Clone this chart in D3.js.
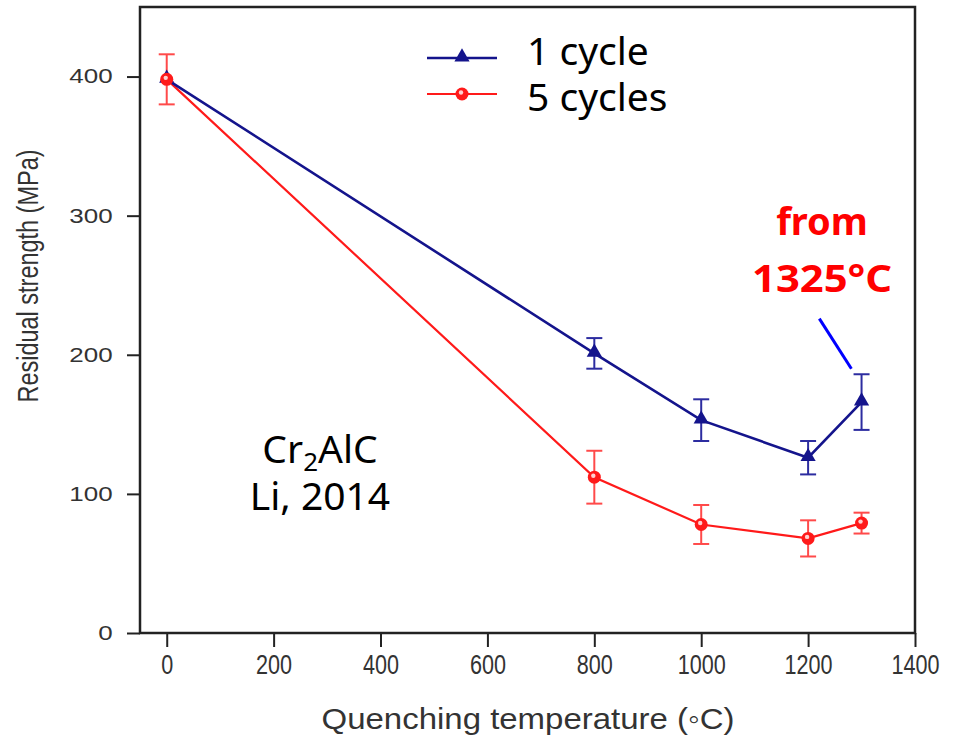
<!DOCTYPE html>
<meta charset="utf-8">
<title>Residual strength vs quenching temperature</title>
<style>
body { margin: 0; background: #fff; }
.tick text { fill: #333; font-family: "Liberation Sans", Arial, sans-serif; }
</style>
<body>
<svg width="961" height="738"></svg>
<script src="https://d3js.org/d3.v7.min.js"></script>
<script>
// data
var temps = [0, 800, 1000, 1200, 1300];
var oneCycle = [398, 201, 153, 126, 166];
var oneCycleErr = [0, 11, 15, 12, 20];
var fiveCycles = [398, 112, 78, 68, 79];
var fiveCyclesErr = [18, 19, 14, 13, 7.5];
var xTicks = [0, 200, 400, 600, 800, 1000, 1200, 1400];
var yTicks = [0, 100, 200, 300, 400];
var seriesNames = ["1 cycle", "5 cycles"];
var pointer = [[1221, 226], [1281, 190]];

var svg = d3.select("svg");

var x = d3.scaleLinear().domain([-50, 1400]).range([140, 915]);
var y = d3.scaleLinear().domain([0, 450]).range([633, 7]);

var blue = "#14148c", red = "#ff1a1a";

// x axis
var xa = svg.append("g")
    .attr("transform", "translate(0,633)")
    .call(d3.axisBottom(x).tickValues(xTicks).tickFormat(d3.format("d")).tickSize(14).tickPadding(8));
xa.select(".domain").remove();
xa.selectAll("line").attr("stroke", "#222").attr("stroke-width", 2);
xa.selectAll("text")
    .attr("transform", "scale(0.8,1)")
    .style("font-size", "27px");

// y axis
var ya = svg.append("g")
    .attr("transform", "translate(140,0)")
    .call(d3.axisLeft(y).tickValues(yTicks).tickSize(13));
ya.select(".domain").remove();
ya.selectAll("line").attr("stroke", "#222").attr("stroke-width", 2);
ya.selectAll("text")
    .attr("x", -21)
    .attr("transform", "scale(1.3,1)")
    .style("font-size", "20px");

// frame
svg.append("rect")
    .attr("x", 140).attr("y", 7)
    .attr("width", 775).attr("height", 626)
    .attr("fill", "none")
    .attr("stroke", "#222")
    .attr("stroke-width", 2.5);

// axis titles
svg.append("text")
    .attr("transform", "translate(38,276) rotate(-90)")
    .attr("text-anchor", "middle")
    .attr("fill", "#333")
    .attr("textLength", 253)
    .attr("lengthAdjust", "spacingAndGlyphs")
    .style("font-family", "'Liberation Sans', Arial, sans-serif")
    .style("font-size", "29px")
    .text("Residual strength (MPa)");

svg.append("text")
    .attr("x", 528).attr("y", 729)
    .attr("text-anchor", "middle")
    .attr("fill", "#333")
    .attr("textLength", 413)
    .attr("lengthAdjust", "spacingAndGlyphs")
    .style("font-family", "'Liberation Sans', Arial, sans-serif")
    .style("font-size", "30px")
    .text("Quenching temperature (\u25E6C)");

var line = d3.line()
    .x(function(d) { return x(d[0]); })
    .y(function(d) { return y(d[1]); });

function errorBars(vals, errs, color) {
  var g = svg.append("g").attr("stroke", color).attr("stroke-width", 2);
  temps.forEach(function(t, i) {
    if (!errs[i]) return;
    var cx = x(t);
    g.append("line").attr("x1", cx).attr("x2", cx)
      .attr("y1", y(vals[i] + errs[i])).attr("y2", y(vals[i] - errs[i]));
    [vals[i] + errs[i], vals[i] - errs[i]].forEach(function(v) {
      g.append("line").attr("x1", cx - 8).attr("x2", cx + 8)
        .attr("y1", y(v)).attr("y2", y(v));
    });
  });
}

errorBars(fiveCycles, fiveCyclesErr, "#ff4a4a");
errorBars(oneCycle, oneCycleErr, "#2c2ca0");

var blueData = temps.map(function(t, i) { return [t, oneCycle[i]]; });
var redData = temps.map(function(t, i) { return [t, fiveCycles[i]]; });

svg.append("path").datum(redData)
    .attr("d", line).attr("fill", "none")
    .attr("stroke", red).attr("stroke-width", 2.2);
svg.append("path").datum(blueData)
    .attr("d", line).attr("fill", "none")
    .attr("stroke", blue).attr("stroke-width", 2.6);

var tri = d3.symbol().type(d3.symbolTriangle).size(100);

function redMarker(sel) {
  sel.append("circle").attr("r", 6.5).attr("fill", red);
  sel.append("circle").attr("r", 2.2).attr("cx", -1).attr("cy", -1.5).attr("fill", "#ffd0d0");
}

svg.selectAll(".tri").data(blueData).enter().append("path")
    .attr("class", "tri")
    .attr("d", tri)
    .attr("fill", blue)
    .attr("transform", function(d) { return "translate(" + x(d[0]) + "," + (y(d[1]) - 1) + ")"; });

svg.selectAll(".dot").data(redData).enter().append("g")
    .attr("class", "dot")
    .attr("transform", function(d) { return "translate(" + x(d[0]) + "," + y(d[1]) + ")"; })
    .call(redMarker);

// legend
var leg = svg.append("g");
[blue, red].forEach(function(c, i) {
  var ly = 58 + i * 36;
  leg.append("line").attr("x1", 427).attr("x2", 497)
    .attr("y1", ly).attr("y2", ly)
    .attr("stroke", c).attr("stroke-width", i ? 2.2 : 2.6);
  if (i === 0) {
    leg.append("path").attr("d", tri).attr("fill", blue)
      .attr("transform", "translate(462," + (ly - 1) + ")");
  } else {
    leg.append("g").attr("transform", "translate(462," + ly + ")").call(redMarker);
  }
  leg.append("text")
    .attr("x", 527).attr("y", i ? 111 : 65)
    .style("font-family", "'Noto Sans', sans-serif")
    .style("font-size", "39px")
    .attr("fill", "#000")
    .text(seriesNames[i]);
});

// sample label
var lab = svg.append("text")
    .attr("x", 320).attr("y", 463)
    .attr("text-anchor", "middle")
    .style("font-family", "'Noto Sans', sans-serif")
    .style("font-size", "39px")
    .attr("fill", "#000");
lab.append("tspan").text("Cr");
lab.append("tspan").attr("dy", 8).style("font-size", "26px").text("2");
lab.append("tspan").attr("dy", -8).text("AlC");

svg.append("text")
    .attr("x", 320).attr("y", 510)
    .attr("text-anchor", "middle")
    .style("font-family", "'Noto Sans', sans-serif")
    .style("font-size", "39px")
    .attr("fill", "#000")
    .text("Li, 2014");

// annotation
svg.append("text")
    .attr("x", 822).attr("y", 235)
    .attr("text-anchor", "middle")
    .style("font-family", "'Noto Sans', sans-serif")
    .style("font-size", "38px")
    .style("font-weight", "bold")
    .attr("fill", "#ff0000")
    .text("from");
svg.append("text")
    .attr("x", 822).attr("y", 292)
    .attr("text-anchor", "middle")
    .attr("textLength", 140)
    .attr("lengthAdjust", "spacingAndGlyphs")
    .style("font-family", "'Noto Sans', sans-serif")
    .style("font-size", "38px")
    .style("font-weight", "bold")
    .attr("fill", "#ff0000")
    .text("1325\u00B0C");

svg.append("line")
    .attr("x1", x(pointer[0][0])).attr("y1", y(pointer[0][1]))
    .attr("x2", x(pointer[1][0])).attr("y2", y(pointer[1][1]))
    .attr("stroke", "#0000ff")
    .attr("stroke-width", 3);
</script>
</body>
